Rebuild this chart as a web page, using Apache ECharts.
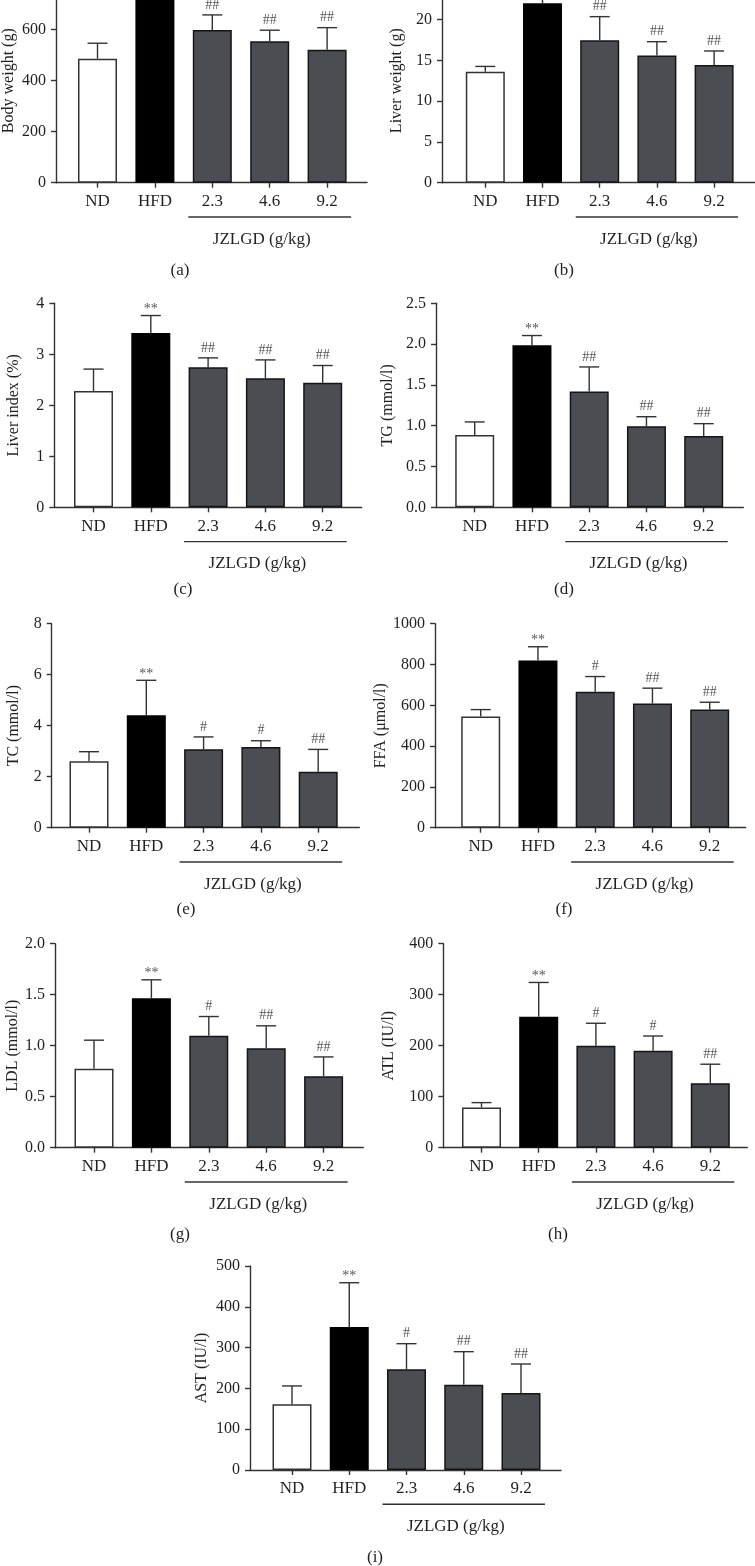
<!DOCTYPE html>
<html><head><meta charset="utf-8">
<script src="https://cdn.jsdelivr.net/npm/echarts@6/dist/echarts.min.js"></script>
<style>html,body{margin:0;padding:0;background:#fff;overflow:hidden}#c{width:755px;height:1606px;margin-top:-40px}</style>
</head><body><div id="c"></div>
<script>
// ---------- data ----------
const categories = ['ND', 'HFD', '2.3', '4.6', '9.2'];
const groupLabel = 'JZLGD (g/kg)';

const bodyWeight = [486, 790, 599, 555, 521];
const bodyWeightErr = [61, 60, 59, 43, 87];
const bodyWeightSig = ['', '**', '##', '##', '##'];
const bodyWeightTicks = [0, 200, 400, 600, 800];

const liverWeight = [13.6, 22.0, 17.45, 15.6, 14.42];
const liverWeightErr = [0.65, 1.6, 2.9, 1.68, 1.72];
const liverWeightSig = ['', '**', '##', '##', '##'];
const liverWeightTicks = [0, 5, 10, 15, 20, 25];

const liverIndex = [2.28, 3.42, 2.745, 2.53, 2.44];
const liverIndexErr = [0.43, 0.34, 0.185, 0.36, 0.34];
const liverIndexSig = ['', '**', '##', '##', '##'];
const liverIndexTicks = [0, 1, 2, 3, 4];

const tg = [0.886, 1.985, 1.42, 0.993, 0.874];
const tgErr = [0.16, 0.12, 0.30, 0.117, 0.151];
const tgSig = ['', '**', '##', '##', '##'];
const tgTicks = [0, 0.5, 1.0, 1.5, 2.0, 2.5];

const tc = [2.61, 4.41, 3.08, 3.16, 2.19];
const tcErr = [0.37, 1.37, 0.48, 0.25, 0.88];
const tcSig = ['', '**', '#', '#', '##'];
const tcTicks = [0, 2, 4, 6, 8];

const ffa = [545, 820, 666, 609, 579];
const ffaErr = [34, 67, 75, 75, 36];
const ffaSig = ['', '**', '#', '##', '##'];
const ffaTicks = [0, 200, 400, 600, 800, 1000];

const ldl = [0.773, 1.466, 1.097, 0.975, 0.70];
const ldlErr = [0.281, 0.18, 0.189, 0.22, 0.19];
const ldlSig = ['', '**', '#', '##', '##'];
const ldlTicks = [0, 0.5, 1.0, 1.5, 2.0];

const atl = [79, 256.6, 199.7, 190, 126.4];
const atlErr = [9.4, 67.4, 44.3, 29, 37.3];
const atlSig = ['', '**', '#', '#', '##'];
const atlTicks = [0, 100, 200, 300, 400];

const ast = [161, 350.5, 246.7, 209, 188.7];
const astErr = [45, 108.5, 62.9, 81, 71.1];
const astSig = ['', '**', '#', '##', '##'];
const astTicks = [0, 100, 200, 300, 400, 500];

// ---------- panels ----------
const panels = [
  {name: 'Body weight (g)', caption: '(a)', values: bodyWeight, errors: bodyWeightErr, sig: bodyWeightSig, ticks: bodyWeightTicks, dec: 0,
   L: {axisX: 56, end: 367, first: 97.5, step: 57.4, base: 182.7, nameGap: 39, capX: 180, capY: 271}},
  {name: 'Liver weight (g)', caption: '(b)', values: liverWeight, errors: liverWeightErr, sig: liverWeightSig, ticks: liverWeightTicks, dec: 0,
   L: {axisX: 442, end: 755, first: 485.3, step: 57.2, base: 182.7, nameGap: 37, capX: 564, capY: 271}},
  {name: 'Liver index (%)', caption: '(c)', values: liverIndex, errors: liverIndexErr, sig: liverIndexSig, ticks: liverIndexTicks, dec: 0,
   L: {axisX: 54.3, end: 361.7, first: 93.5, step: 57.3, base: 507.3, nameGap: 33, capX: 183, capY: 590}},
  {name: 'TG (mmol/l)', caption: '(d)', values: tg, errors: tgErr, sig: tgSig, ticks: tgTicks, dec: 1,
   L: {axisX: 436, end: 743.3, first: 474.7, step: 57.25, base: 507.3, nameGap: 40, capX: 564, capY: 590}},
  {name: 'TC (mmol/l)', caption: '(e)', values: tc, errors: tcErr, sig: tcSig, ticks: tcTicks, dec: 0,
   L: {axisX: 51.7, end: 359.3, first: 89, step: 57.3, base: 827.7, nameGap: 30, capX: 186, capY: 910}},
  {name: 'FFA (\u03bcmol/l)', caption: '(f)', values: ffa, errors: ffaErr, sig: ffaSig, ticks: ffaTicks, dec: 0,
   L: {axisX: 435, end: 745.7, first: 480.7, step: 57.25, base: 827.7, nameGap: 40, capX: 564, capY: 910}},
  {name: 'LDL (mmol/l)', caption: '(g)', values: ldl, errors: ldlErr, sig: ldlSig, ticks: ldlTicks, dec: 1,
   L: {axisX: 55, end: 363.3, first: 94, step: 57.4, base: 1147.7, nameGap: 34, capX: 180, capY: 1235}},
  {name: 'ATL (IU/l)', caption: '(h)', values: atl, errors: atlErr, sig: atlSig, ticks: atlTicks, dec: 0,
   L: {axisX: 443.3, end: 747.3, first: 481.5, step: 57.2, base: 1147.7, nameGap: 47, capX: 558, capY: 1235}},
  {name: 'AST (IU/l)', caption: '(i)', values: ast, errors: astErr, sig: astSig, ticks: astTicks, dec: 0,
   L: {axisX: 250, end: 561, first: 292, step: 57.25, base: 1470, nameGap: 40, capX: 375, capY: 1558}}
];

const OFF = 40; // container is shifted up by this many px (top panels are cropped)
const FONT = '"Liberation Serif", "DejaVu Serif", "Times New Roman", serif';
const TXT = '#231f20';
const AX = '#333333';
const GRID_H = 204;
const fills = ['#ffffff', '#000000', '#4a4d51', '#4a4d51', '#4a4d51'];
const borders = ['#333333', '#000000', '#151515', '#151515', '#151515'];

const option = {
  animation: false,
  backgroundColor: '#ffffff',
  grid: [], xAxis: [], yAxis: [], series: [], title: []
};

panels.forEach((p, k) => {
  const L = p.L;
  const base = L.base + OFF;
  const top = base - GRID_H;
  const gA = option.grid.length;
  option.grid.push({left: L.axisX, top: top, width: L.end - L.axisX, height: GRID_H, containLabel: false});
  option.grid.push({left: L.first - L.step / 2, top: top, width: L.step * 5, height: GRID_H, containLabel: false});
  const gB = gA + 1;
  const min = p.ticks[0], max = p.ticks[p.ticks.length - 1], interval = p.ticks[1] - p.ticks[0];

  option.xAxis.push({
    type: 'value', gridIndex: gA, min: 0, max: 1,
    axisLine: {show: true, lineStyle: {color: AX, width: 1.4}},
    axisTick: {show: false}, axisLabel: {show: false}, splitLine: {show: false}
  });
  option.yAxis.push({
    type: 'value', gridIndex: gA, min: min, max: max, interval: interval,
    axisLine: {show: true, lineStyle: {color: AX, width: 1.4}},
    axisTick: {show: true, length: 5, lineStyle: {color: AX, width: 1.4}},
    axisLabel: {show: true, margin: 10, color: TXT, fontFamily: FONT, fontSize: 16,
      formatter: v => Number(v).toFixed(p.dec)},
    splitLine: {show: false},
    name: p.name, nameLocation: 'middle', nameRotate: 90, nameGap: L.nameGap,
    nameTextStyle: {color: TXT, fontFamily: FONT, fontSize: 16}
  });
  option.xAxis.push({
    type: 'category', gridIndex: gB, data: categories,
    axisLine: {show: false},
    axisTick: {show: true, alignWithLabel: true, length: 5, lineStyle: {color: AX, width: 1.4}},
    axisLabel: {show: true, margin: 10.5, color: TXT, fontFamily: FONT, fontSize: 17, interval: 0},
    splitLine: {show: false}
  });
  option.yAxis.push({
    type: 'value', gridIndex: gB, min: min, max: max, interval: interval, show: false
  });
  const xi = 2 * k + 1, yi = 2 * k + 1;

  option.series.push({
    type: 'bar', xAxisIndex: xi, yAxisIndex: yi, barWidth: 39,
    data: p.values.map((v, i) => ({value: v, itemStyle: {color: fills[i], borderColor: borders[i], borderWidth: 1.5}})),
    z: 2
  });
  option.series.push({
    type: 'custom', xAxisIndex: xi, yAxisIndex: yi, z: 3,
    data: p.values.map((v, i) => [i, v, p.errors[i]]),
    renderItem: (params, api) => {
      const x = api.value(0), v = api.value(1), e = api.value(2);
      const p0 = api.coord([x, v]);
      const p1 = api.coord([x, v + e]);
      const half = 10;
      const s = p.sig[params.dataIndex];
      const children = [
        {type: 'line', shape: {x1: p0[0], y1: p0[1], x2: p1[0], y2: p1[1]}, style: {stroke: '#333', lineWidth: 1.4}},
        {type: 'line', shape: {x1: p1[0] - half, y1: p1[1], x2: p1[0] + half, y2: p1[1]}, style: {stroke: '#333', lineWidth: 1.4}}
      ];
      if (s) {
        const dy = s.charAt(0) === '*' ? 6 : 10;
        children.push({type: 'text', x: p1[0], y: p1[1] - dy,
          style: {text: s, fill: '#555', font: '14px ' + FONT, align: 'center', verticalAlign: 'middle'}});
      }
      return {type: 'group', children: children};
    }
  });
  option.series.push({
    type: 'custom', xAxisIndex: xi, yAxisIndex: yi, z: 3,
    data: [[2, min]],
    renderItem: (params, api) => {
      const a = api.coord([2, min]);
      const b = api.coord([4, min]);
      const c = api.coord([3, min]);
      return {type: 'group', children: [
        {type: 'line', shape: {x1: a[0] - 24, y1: a[1] + 34.3, x2: b[0] + 24, y2: b[1] + 34.3}, style: {stroke: AX, lineWidth: 1.4}},
        {type: 'text', x: c[0] - 8, y: c[1] + 56.5,
          style: {text: groupLabel, fill: TXT, font: '17px ' + FONT, align: 'center', verticalAlign: 'middle'}}
      ]};
    }
  });
  option.title.push({
    text: p.caption, left: L.capX, top: L.capY + OFF - 9, textAlign: 'center', padding: 0,
    textStyle: {color: TXT, fontFamily: FONT, fontSize: 17, fontWeight: 'normal'}
  });
});

const chart = echarts.init(document.getElementById('c'), null, {renderer: 'canvas'});
chart.setOption(option);
</script>
</body></html>
